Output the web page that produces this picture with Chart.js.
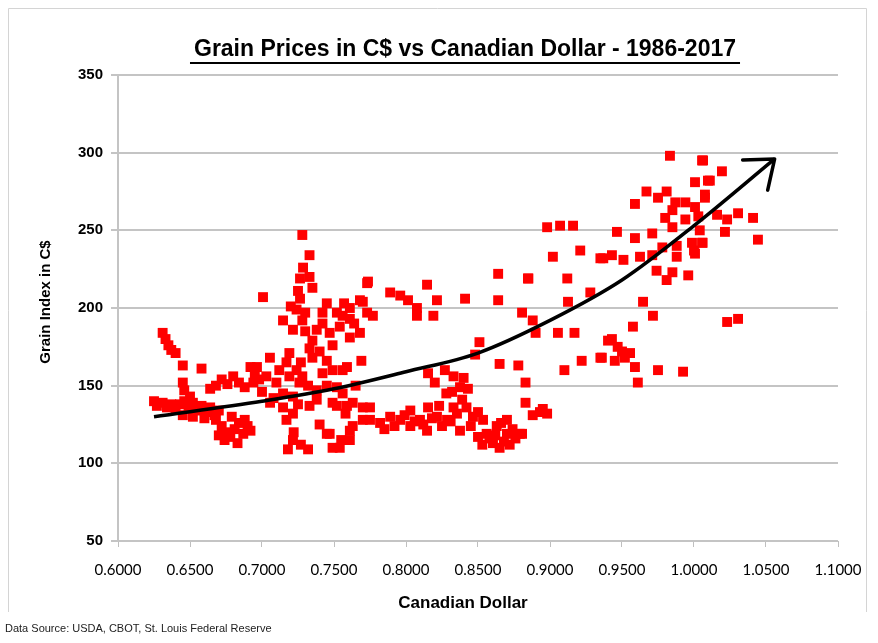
<!DOCTYPE html>
<html>
<head>
<meta charset="utf-8">
<title>Grain Prices in C$ vs Canadian Dollar</title>
<script src="https://cdn.jsdelivr.net/npm/chart.js@4.4.1/dist/chart.umd.min.js"></script>
<style>
  html, body { margin: 0; padding: 0; background: #fff; }
  #wrap { position: relative; width: 878px; height: 643px; }
</style>
</head>
<body>
<div id="wrap"><canvas id="grain"></canvas></div>
<script>
"use strict";

// grain index (C$) against the Canadian dollar
var cadDollar = [
  0.625, 0.627, 0.631, 0.634, 0.637, 0.640, 0.643, 0.646, 0.649, 0.652, 0.655, 0.658, 0.661, 0.664, 0.667, 0.670, 0.645, 0.652, 0.660,
  0.631, 0.633, 0.635, 0.637, 0.640, 0.645, 0.658, 0.645, 0.646, 0.650,
  0.668, 0.672, 0.675, 0.678, 0.681, 0.684, 0.687, 0.690, 0.674, 0.683, 0.679, 0.688, 0.692, 0.670,
  0.668, 0.672, 0.676, 0.680, 0.684, 0.688, 0.692, 0.695, 0.698, 0.664, 0.694,
  0.728, 0.733, 0.7285, 0.7264, 0.725, 0.7264, 0.724, 0.730, 0.7146, 0.7215, 0.728, 0.7007,
  0.742, 0.752, 0.761, 0.768, 0.773, 0.761, 0.754, 0.747, 0.738, 0.735, 0.761, 0.768, 0.749, 0.733, 0.735, 0.719,
  0.769, 0.745, 0.759, 0.7055, 0.6965, 0.717, 0.724, 0.728, 0.719, 0.703, 0.710, 0.726, 0.742, 0.749, 0.756, 0.752,
  0.738, 0.7146, 0.7215, 0.7056, 0.7146, 0.7215, 0.738, 0.749, 0.759, 0.752, 0.717, 0.7215, 0.718, 0.732, 0.745,
  0.749, 0.755, 0.761, 0.770, 0.770, 0.763, 0.747, 0.754, 0.761, 0.763,
  0.730, 0.742, 0.756, 0.764, 0.740, 0.727, 0.732, 0.745, 0.712, 0.700, 0.708, 0.725, 0.733, 0.756, 0.765, 0.722,
  0.727, 0.740, 0.758, 0.773, 0.720, 0.745, 0.757, 0.735, 0.733,
  0.7736, 0.770, 0.777, 0.789, 0.796, 0.8014, 0.8076, 0.8076, 0.8146, 0.8215, 0.819, 0.841, 0.864, 0.864, 0.8847, 0.8806, 0.888,
  0.851, 0.848, 0.865, 0.878, 0.883, 0.883, 0.888, 0.8153, 0.820, 0.827, 0.833, 0.8375, 0.832, 0.839, 0.833,
  0.775, 0.775, 0.782, 0.789, 0.796, 0.803, 0.803, 0.8097, 0.8146, 0.8153, 0.8215, 0.8285, 0.8354, 0.842, 0.8375, 0.8465,
  0.8535, 0.856, 0.8604, 0.863, 0.8701, 0.8701, 0.879, 0.8806, 0.865,
  0.785, 0.792, 0.799, 0.806, 0.812, 0.818, 0.825, 0.831, 0.845, 0.850, 0.853, 0.858, 0.868, 0.872, 0.876, 0.850,
  0.823, 0.843, 0.840, 0.828, 0.866, 0.874, 0.862, 0.893, 0.898, 0.895,
  0.898, 0.907, 0.916, 0.902, 0.921, 0.935, 0.885, 0.912, 0.9125, 0.928, 0.890, 0.9055, 0.917, 0.910, 0.922, 0.935,
  0.9833, 1.0056, 1.0007, 1.0097, 0.967, 0.959, 0.975, 0.981, 0.987, 0.994, 1.0076, 1.0007, 0.985, 0.980, 0.994, 1.003,
  0.985, 1.004, 0.9465, 0.959, 0.971, 0.978, 0.988, 0.988, 0.9986, 1.0056, 1.0007, 0.937, 0.943, 0.951, 0.9625, 0.971,
  0.974, 0.981, 0.985, 0.996, 0.9646, 0.9715, 0.9576, 0.9403, 0.947, 0.936, 0.945, 0.9556, 0.959, 0.975, 0.9924, 0.961,
  0.950, 0.943, 0.952,
  1.0063, 1.0194, 1.011, 1.0076, 1.016, 1.023, 1.0306, 1.041, 1.0215, 1.0444, 1.006, 1.023, 1.0306, 1.000
];
var grainIndex = [
  140, 137, 139, 136, 138, 135, 138, 140, 136, 139, 134, 137, 133, 136, 131, 134, 131, 130, 129,
  184, 180, 176, 173, 171, 163, 161, 152, 147, 143,
  128, 124, 120, 117, 122, 126, 119, 124, 115, 113, 130, 128, 121, 118,
  150, 154, 151, 156, 152, 149, 162, 158, 154, 148, 152,
  247, 234, 226, 219, 211, 206, 199, 197, 192, 186, 192, 207,
  197, 197, 200, 205, 216, 193, 188, 184, 186, 179, 181, 184, 176, 174, 168, 171,
  166, 166, 162, 168, 162, 165, 160, 156, 156, 156, 152, 152, 158, 160, 160, 149,
  147, 145, 143, 139, 136, 132, 141, 139, 137, 137, 128, 115, 109, 109, 119,
  110, 115, 121, 136, 128, 139, 119, 110, 115, 124,
  185, 190, 195, 190, 172, 165, 150, 150, 160, 146, 142, 138, 137, 145, 150, 120,
  112, 125, 132, 197, 201, 203, 203, 213, 220,
  217, 204, 195, 210, 208, 205, 200, 195, 215, 205, 195, 206, 222, 205, 219, 197, 192,
  178, 170, 164, 163, 152, 139, 131, 158, 152, 160, 156, 149, 146, 141, 136,
  136, 128, 126, 130, 128, 134, 124, 128, 121, 136, 130, 128, 132, 136, 121, 130,
  128, 119, 113, 124, 119, 128, 119, 119, 110,
  122, 124, 131, 127, 125, 129, 124, 127, 124, 117, 112, 116, 114, 112, 116, 133,
  137, 148, 155, 145, 126, 122, 118, 133, 132, 135,
  252, 253, 253, 233, 237, 232, 219, 219, 204, 210, 184, 184, 184, 160, 166, 168,
  298, 295, 281, 282, 275, 267, 271, 275, 268, 268, 273, 265, 263, 258, 257, 259,
  252, 250, 249, 245, 248, 239, 240, 233, 242, 242, 235, 232, 234, 231, 233, 234,
  224, 218, 223, 221, 204, 195, 188, 179, 175, 168, 166, 171, 162, 160, 159, 152,
  172, 180, 168,
  295, 288, 282, 271, 260, 257, 261, 258, 249, 244, 242, 191, 193, 237
];

// hand drawn trend arrow
var trendX = [0.625, 0.70, 0.75, 0.80, 0.85, 0.90, 0.95, 1.00, 1.056];
var trendY = [130, 140, 148, 159, 171, 192, 218, 253, 296];

var xTicks = [0.60, 0.65, 0.70, 0.75, 0.80, 0.85, 0.90, 0.95, 1.00, 1.05, 1.10];
var yTicks = [50, 100, 150, 200, 250, 300, 350];

var chartTitle = "Grain Prices in C$ vs Canadian Dollar - 1986-2017";
var xTitle = "Canadian Dollar";
var yTitle = "Grain Index in C$";
var sourceNote = "Data Source: USDA, CBOT, St. Louis Federal Reserve";

var points = [];
for (var i = 0; i < cadDollar.length && i < grainIndex.length; i++) {
  points.push({ x: cadDollar[i], y: grainIndex[i] });
}
var trend = [];
for (var j = 0; j < trendX.length; j++) {
  trend.push({ x: trendX[j], y: trendY[j] });
}

var narrow = '"Liberation Sans Narrow", "Liberation Sans", Arial, sans-serif';

var decorations = {
  id: 'decorations',
  beforeDraw: function (chart) {
    var ctx = chart.ctx;
    ctx.save();
    ctx.fillStyle = '#fff';
    ctx.fillRect(0, 0, chart.width, chart.height);
    // outer frame
    ctx.strokeStyle = '#d4d4d4';
    ctx.lineWidth = 1;
    ctx.beginPath();
    ctx.moveTo(8.5, 612);
    ctx.lineTo(8.5, 8.5);
    ctx.lineTo(866.5, 8.5);
    ctx.lineTo(866.5, 612);
    ctx.stroke();
    ctx.restore();
  },
  afterDatasetsDraw: function (chart) {
    var ctx = chart.ctx;
    var xs = chart.scales.x, ys = chart.scales.y;
    var n = trendX.length;
    var tx = xs.getPixelForValue(trendX[n - 1]), ty = ys.getPixelForValue(trendY[n - 1]);
    var px = xs.getPixelForValue(trendX[n - 2]), py = ys.getPixelForValue(trendY[n - 2]);
    var back = Math.atan2(py - ty, px - tx);
    var len = 32, spread = 0.66;
    ctx.save();
    ctx.strokeStyle = '#000';
    ctx.lineWidth = 3.5;
    ctx.lineCap = 'round';
    ctx.lineJoin = 'round';
    ctx.beginPath();
    ctx.moveTo(tx + len * Math.cos(back - spread), ty + len * Math.sin(back - spread));
    ctx.lineTo(tx, ty);
    ctx.lineTo(tx + len * Math.cos(back + spread), ty + len * Math.sin(back + spread));
    ctx.stroke();
    ctx.restore();
  },
  afterDraw: function (chart) {
    var ctx = chart.ctx;
    var area = chart.chartArea;
    ctx.save();
    ctx.fillStyle = '#000';
    ctx.textBaseline = 'middle';

    // title, underlined
    ctx.font = 'bold 23px ' + narrow;
    ctx.textAlign = 'center';
    var cx = 465;
    ctx.fillText(chartTitle, cx, 50);
    var w = ctx.measureText(chartTitle).width;
    ctx.fillRect(cx - w / 2 - 4, 62, w + 8, 2);

    // x axis title
    ctx.font = 'bold 17px ' + narrow;
    ctx.fillText(xTitle, (area.left + area.right) / 2 - 15, 603);

    // y axis title
    ctx.save();
    ctx.translate(46, 302);
    ctx.rotate(-Math.PI / 2);
    ctx.font = 'bold 15px "Liberation Sans", Arial, sans-serif';
    ctx.fillText(yTitle, 0, 0);
    ctx.restore();

    // source note
    ctx.font = '11px ' + narrow;
    ctx.textAlign = 'left';
    ctx.fillStyle = '#222';
    ctx.fillText(sourceNote, 5, 629);
    ctx.restore();
  }
};

new Chart(document.getElementById('grain').getContext('2d'), {
  type: 'scatter',
  data: {
    datasets: [{
      label: 'Trend',
      data: trend,
      showLine: true,
      borderColor: '#000',
      borderWidth: 3.5,
      pointRadius: 0,
      cubicInterpolationMode: 'monotone',
      order: 0
    }, {
      label: 'Grain Index',
      data: points,
      pointStyle: 'rect',
      pointRadius: 7,
      pointBorderWidth: 0,
      backgroundColor: '#ff0000',
      borderColor: '#ff0000',
      order: 1
    }]
  },
  options: {
    responsive: true,
    maintainAspectRatio: false,
    animation: false,
    layout: { padding: { top: 75, right: 40, left: 0, bottom: 0 } },
    plugins: {
      legend: { display: false },
      tooltip: { enabled: false }
    },
    scales: {
      x: {
        type: 'linear',
        min: 0.6,
        max: 1.1,
        afterFit: function (s) { s.height = 102; },
        afterBuildTicks: function (s) {
          s.ticks = xTicks.map(function (v) { return { value: v }; });
        },
        ticks: {
          color: '#000',
          padding: 14,
          font: { family: 'Lato, "Open Sans", sans-serif', size: 15 },
          callback: function (v) { return Number(v).toFixed(4); }
        },
        grid: { drawOnChartArea: false, drawTicks: true, tickLength: 6, color: '#bfbfbf', lineWidth: 1 },
        border: { display: false }
      },
      y: {
        type: 'linear',
        min: 50,
        max: 350,
        afterFit: function (s) { s.width = 118; },
        afterBuildTicks: function (s) {
          s.ticks = yTicks.map(function (v) { return { value: v }; });
        },
        ticks: {
          color: '#000',
          padding: 8,
          font: { family: narrow, size: 15, weight: 'bold' }
        },
        grid: { color: '#c4c4c4', lineWidth: 2, tickLength: 7 },
        border: { display: true, color: '#c4c4c4', width: 2 }
      }
    }
  },
  plugins: [decorations]
});
</script>
</body>
</html>
